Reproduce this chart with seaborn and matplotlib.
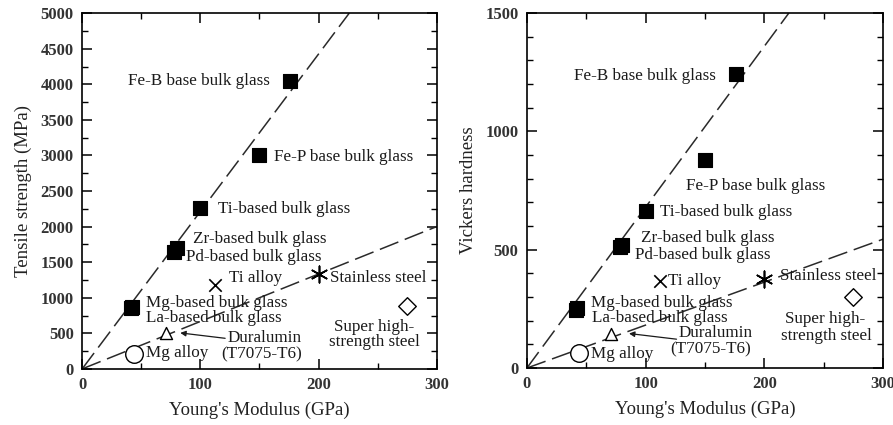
import matplotlib
matplotlib.use("Agg")
import matplotlib.pyplot as plt
from matplotlib.ticker import MultipleLocator
import seaborn as sns
import pandas as pd

# ---- data -------------------------------------------------------------
materials = ["Fe-B base bulk glass", "Fe-P base bulk glass", "Ti-based bulk glass",
             "Zr-based bulk glass", "Pd-based bulk glass", "Mg-based bulk glass",
             "La-based bulk glass", "Duralumin", "Mg alloy", "Ti alloy",
             "Stainless steel", "Super high-strength steel"]
youngs_modulus = [176, 150, 100, 80, 78, 42, 41, 71, 44, 112, 200, 275]
tensile_strength = [4050, 3000, 2260, 1700, 1650, 870, 860, 500, 215, 1180, 1340, 890]
vickers_hardness = [1245, 880, 665, 522, 512, 252, 246, 145, 65, 370, 375, 300]
marker_group = ["glass"] * 7 + ["duralumin", "mg_alloy", "ti_alloy", "stainless", "super"]

# guide lines through the origin (end points)
tensile_lines = {"steep": ([0, 226], [0, 5000]), "shallow": ([0, 300], [0, 2000])}
hardness_lines = {"steep": ([0, 220.5], [0, 1500]), "shallow": ([0, 300], [0, 545])}

# annotation text per panel: (text, x, y, ha)
tensile_labels = [
    ("Fe-B base bulk glass", 159, 4040, "right"),
    ("Fe-P base bulk glass", 162, 2980, "left"),
    ("Ti-based bulk glass", 115, 2250, "left"),
    ("Zr-based bulk glass", 94, 1826, "left"),
    ("Pd-based bulk glass", 88, 1573, "left"),
    ("Ti alloy", 124, 1278, "left"),
    ("Stainless steel", 210, 1278, "left"),
    ("Mg-based bulk glass", 54, 927, "left"),
    ("La-based bulk glass", 54, 716, "left"),
    ("Duralumin", 123, 435, "left"),
    ("(T7075-T6)", 118, 210, "left"),
    ("Mg alloy", 54, 225, "left"),
    ("Super high-", 213, 590, "left"),
    ("strength steel", 209, 375, "left"),
]
hardness_labels = [
    ("Fe-B base bulk glass", 159, 1235, "right"),
    ("Fe-P base bulk glass", 134, 770, "left"),
    ("Ti-based bulk glass", 112, 660, "left"),
    ("Zr-based bulk glass", 96, 548, "left"),
    ("Pd-based bulk glass", 91, 476, "left"),
    ("Ti alloy", 119, 366, "left"),
    ("Stainless steel", 213, 390, "left"),
    ("Mg-based bulk glass", 54, 277, "left"),
    ("La-based bulk glass", 55, 211, "left"),
    ("Duralumin", 128, 148, "left"),
    ("(T7075-T6)", 121, 77, "left"),
    ("Mg alloy", 54, 60, "left"),
    ("Super high-", 217, 207, "left"),
    ("strength steel", 214, 137, "left"),
]
tensile_arrow = ((121, 430), (83, 506))
hardness_arrow = ((126, 122), (86, 146))

# ---- styling ----------------------------------------------------------
sns.set_theme(style="ticks")
plt.rcParams["font.family"] = ["Liberation Serif", "DejaVu Serif"]

marker_styles = {
    "glass": dict(marker="s", s=95, color="black", edgecolor="black", linewidth=0.8),
    "duralumin": dict(marker="^", s=75, color="black", facecolor="white", edgecolor="black", linewidth=1.0),
    "mg_alloy": dict(marker="o", s=160, color="black", facecolor="white", edgecolor="black", linewidth=1.0),
    "ti_alloy": dict(marker="x", s=80, color="black", linewidth=1.2),
    "stainless": dict(marker=(6, 2, 0), s=140, color="black", linewidth=1.2),
    "super": dict(marker="D", s=80, color="black", facecolor="white", edgecolor="black", linewidth=1.0),
}

df = pd.DataFrame({"material": materials, "E": youngs_modulus,
                   "tensile": tensile_strength, "hardness": vickers_hardness,
                   "group": marker_group})

fig = plt.figure(figsize=(8.93, 4.25), dpi=100)
ax1 = fig.add_axes([0.092, 0.132, 0.397, 0.837])
ax2 = fig.add_axes([0.590, 0.134, 0.399, 0.835])


def draw_panel(ax, col, lines, labels, arrow, ymax, ymajor, yminor, ylabel):
    for name, (lx, ly) in lines.items():
        line_df = pd.DataFrame({"E": lx, col: ly})
        sns.lineplot(data=line_df, x="E", y=col, ax=ax, color="#2a2a2a",
                     linewidth=1.1, dashes=False, sort=False)
        ax.lines[-1].set_dashes([13, 4.5])
    for grp, kw in marker_styles.items():
        sub = df[df["group"] == grp]
        sns.scatterplot(data=sub, x="E", y=col, ax=ax, zorder=5, **kw)
    for text, tx, ty, ha in labels:
        ax.text(tx, ty, text, ha=ha, va="center", fontsize=12.3, color="#1a1a1a")
    ax.annotate("", xy=arrow[1], xytext=arrow[0],
                arrowprops=dict(arrowstyle="-|>", color="#1a1a1a", lw=0.9,
                                mutation_scale=8, shrinkA=0, shrinkB=0))

    ax.set_xlim(0, 300)
    ax.set_ylim(0, ymax)
    ax.xaxis.set_major_locator(MultipleLocator(100))
    ax.xaxis.set_minor_locator(MultipleLocator(50))
    ax.yaxis.set_major_locator(MultipleLocator(ymajor))
    ax.yaxis.set_minor_locator(MultipleLocator(yminor))
    ax.tick_params(which="both", direction="in", top=True, right=True, color="black")
    ax.tick_params(which="major", length=7, width=1.1, labelsize=12, pad=6)
    ax.tick_params(which="minor", length=4, width=1.0)
    for lab in ax.get_xticklabels() + ax.get_yticklabels():
        lab.set_fontweight("bold")
        lab.set_color("#333333")
    for sp in ax.spines.values():
        sp.set_linewidth(1.2)
        sp.set_color("black")
    ax.set_xlabel("Young's Modulus (GPa)", fontsize=13.5, color="#222222", labelpad=6)
    ax.set_ylabel(ylabel, fontsize=13.5, color="#222222", labelpad=6)


draw_panel(ax1, "tensile", tensile_lines, tensile_labels, tensile_arrow,
           5000, 500, 250, "Tensile strength (MPa)")
draw_panel(ax2, "hardness", hardness_lines, hardness_labels, hardness_arrow,
           1500, 500, 100, "Vickers hardness")

fig.savefig("out.png", dpi=100, facecolor="white")
